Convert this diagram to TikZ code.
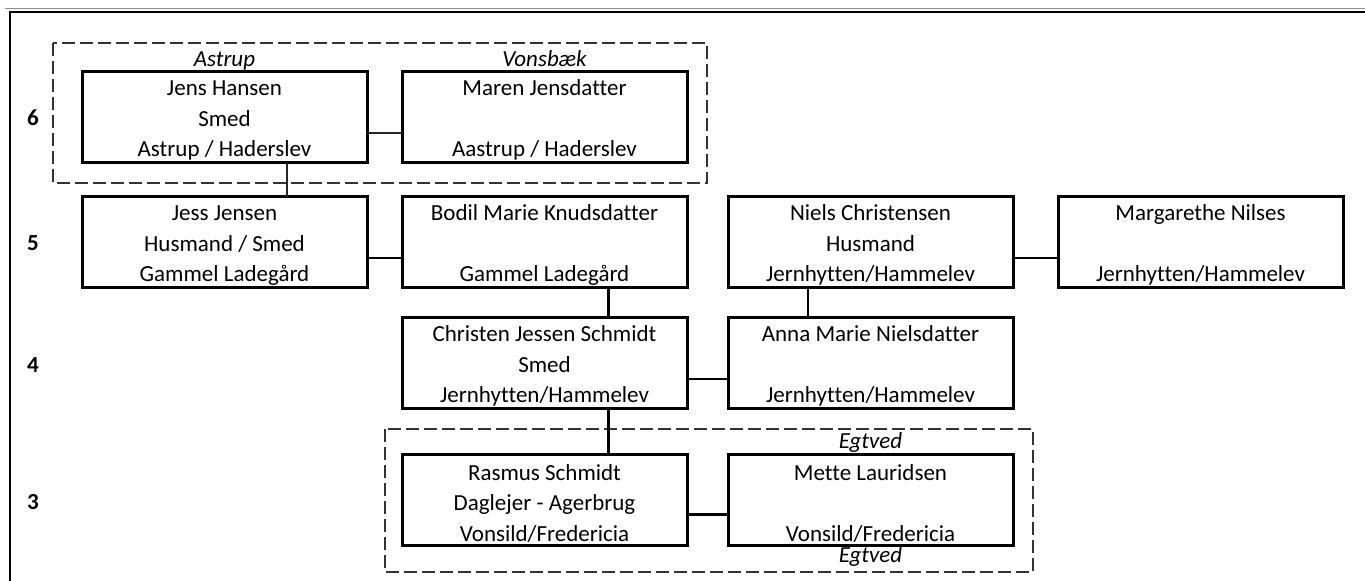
\documentclass[tikz,border=0pt]{standalone}
\usepackage{fontspec}
\setmainfont{Carlito}[Ligatures=NoCommon]
\usetikzlibrary{positioning}
\newcommand{\person}[3]{\rule{0pt}{10.5pt}#1\\#2\\#3}
\begin{document}
\begin{tikzpicture}[x=0.5pt, y=-0.5pt,
        box/.style={
            rectangle,
            draw=black, line width=1.5pt,
            minimum width=142.5pt,
            minimum height=45.5pt,
            inner sep=0pt, outer sep=0pt,
            align=center,
            font=\fontsize{11.5}{15.25}\selectfont},
        place/.style={
            inner sep=0pt, outer sep=0pt,
            text height=8pt, text depth=2.5pt,
            font=\fontsize{11.5}{14}\selectfont\itshape},
        gen/.style={
            inner sep=0pt,
            font=\fontsize{11.5}{14}\selectfont\bfseries},
        group/.style={
            draw=black!80, line width=0.7pt,
            dash pattern=on 6.5pt off 2.5pt},
        couple/.style={
            line width=1.4pt},
        thinline/.style={
            draw=black!85, line width=0.6pt}
        ]

        \useasboundingbox (0,0) rectangle (1365,581);
        \draw [draw=black!45, line width=0.5pt] (5,8.5) -- (1365,8.5);
        \draw [line width=1pt] (10,581) -- (10,12) -- (1365,12);

        \node (jens) [box] at (224.5,117.5) {\person{Jens Hansen}{Smed}{Astrup / Haderslev}};
        \node (maren) [box, right=17.5pt of jens] {\person{Maren Jensdatter}{}{Aastrup / Haderslev}};
        \node (jess) [box, below=17pt of jens] {\person{Jess Jensen}{Husmand / Smed}{Gammel Ladegård}};
        \node (bodil) [box, right=17.5pt of jess] {\person{Bodil Marie Knudsdatter}{}{Gammel Ladegård}};
        \node (niels) [box, right=20.5pt of bodil] {\person{Niels Christensen}{Husmand}{Jernhytten/Hammelev}};
        \node (margarethe) [box, right=22.5pt of niels] {\person{Margarethe Nilses}{}{Jernhytten/Hammelev}};
        \node (christen) [box, below=15pt of bodil] {\person{Christen Jessen Schmidt}{Smed}{Jernhytten/Hammelev}};
        \node (anna) [box, below=15pt of niels] {\person{Anna Marie Nielsdatter}{}{Jernhytten/Hammelev}};
        \node (rasmus) [box, below=23pt of christen] {\person{Rasmus Schmidt}{Daglejer - Agerbrug}{Vonsild/Fredericia}};
        \node (mette) [box, below=23pt of anna] {\person{Mette Lauridsen}{}{Vonsild/Fredericia}};

        \node (astrup) [place, above=0.2pt of jens] {Astrup};
        \node (vonsbaek) [place, above=0.2pt of maren] {Vonsbæk};
        \node (egtvedtop) [place, above=0.5pt of mette] {Egtved};
        \node (egtvedbot) [place, below=0.5pt of mette] {Egtved};

        \node (g6) [gen] at (33,118) {6};
        \node (g5) [gen] at (33,243) {5};
        \node (g4) [gen] at (33,365) {4};
        \node (g3) [gen] at (33,502) {3};

        \draw [group] (53,43) rectangle (707,183);
        \draw [group] (385,429) rectangle (1033,572);

        \draw [thinline] ([yshift=-7.75pt]jens.east) -- ([yshift=-7.75pt]maren.west);
        \draw [thinline] ([xshift=31.25pt]jens.south) -- ([xshift=31.25pt]jess.north);
        \draw [couple] ([yshift=-7.75pt]jess.east) -- ([yshift=-7.75pt]bodil.west);
        \draw [couple] ([yshift=-7.75pt]niels.east) -- ([yshift=-7.75pt]margarethe.west);
        \draw [couple] ([xshift=32pt]bodil.south) -- ([xshift=32pt]christen.north);
        \draw [couple] ([xshift=-31.25pt]niels.south) -- ([xshift=-31.25pt]anna.north);
        \draw [couple] ([yshift=-7.75pt]christen.east) -- ([yshift=-7.75pt]anna.west);
        \draw [couple] ([xshift=32pt]christen.south) -- ([xshift=32pt]rasmus.north);
        \draw [couple] ([yshift=-7pt]rasmus.east) -- ([yshift=-7pt]mette.west);

\end{tikzpicture}
\end{document}
